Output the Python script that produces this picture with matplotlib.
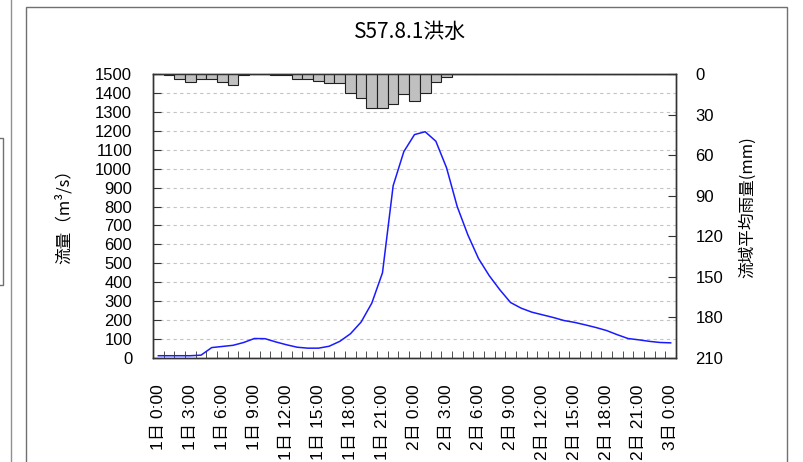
import matplotlib
matplotlib.use("Agg")
import matplotlib.pyplot as plt
import numpy as np
from matplotlib.lines import Line2D
from matplotlib.patches import Rectangle

plt.rcParams["font.family"] = ["Liberation Sans", "Noto Sans CJK JP", "DejaVu Sans"]

# ----------------------------------------------------------------------
# Data (hourly, 1日 0:00 .. 3日 0:00)
# ----------------------------------------------------------------------
flow = [12, 12, 12, 12, 15, 55, 61, 67, 82, 103,
        102, 85, 70, 57, 52, 52, 62, 88, 128, 190,
        290, 450, 910, 1090, 1180, 1195, 1145, 1005, 800, 650,
        525, 435, 360, 293, 263, 242, 228, 214, 198, 188,
        175, 161, 145, 123, 103, 96, 88, 82, 80]
rain = [0, 1, 4, 6, 4, 4, 6, 8, 1, 0,
        0, 1, 1, 4, 4, 5, 7, 7, 14, 18,
        25, 25, 22, 15, 20, 14, 6, 2, 0, 0,
        0, 0, 0, 0, 0, 0, 0, 0, 0, 0,
        0, 0, 0, 0, 0, 0, 0, 0, 0]
hour_labels = ["1日 0:00", "1日 3:00", "1日 6:00", "1日 9:00",
               "1日 12:00", "1日 15:00", "1日 18:00", "1日 21:00",
               "2日 0:00", "2日 3:00", "2日 6:00", "2日 9:00",
               "2日 12:00", "2日 15:00", "2日 18:00", "2日 21:00",
               "3日 0:00"]
flow_ticks = list(range(0, 1501, 100))
rain_ticks = list(range(0, 211, 30))

x = np.arange(len(flow))

# ----------------------------------------------------------------------
# Figure
# ----------------------------------------------------------------------
W, H = 804, 462
fig = plt.figure(figsize=(W / 100, H / 100), dpi=100)
fig.patch.set_facecolor("white")

# window decorations around the chart
fig.add_artist(Rectangle((26 / W, -0.05), (787 - 26) / W, 0.05 + (1 - 7 / H),
                         transform=fig.transFigure, facecolor="none",
                         edgecolor="#707070", lw=1.0))
fig.add_artist(Line2D([11 / W, 11 / W], [0, 1], transform=fig.transFigure,
                      color="#909090", lw=1.0))
fig.add_artist(Rectangle((-0.01, 1 - 285 / H), 0.01 + 3 / W, (285 - 138) / H,
                         transform=fig.transFigure, facecolor="none",
                         edgecolor="#707070", lw=1.0))

ax = fig.add_axes([153 / W, 1 - 358 / H, (676 - 153) / W, (358 - 74) / H])
ax.set_axisbelow(True)
ax.plot(x, flow, color="#1a1aff", lw=1.1, zorder=3)

ax.set_xlim(-0.5, len(flow) - 0.5)
ax.set_ylim(0, 1500)
ax.set_yticks(flow_ticks)
ax.set_yticklabels([str(v) for v in flow_ticks], fontsize=12)
ax.yaxis.grid(True, linestyle=(0, (3, 3)), color="#c4c4c4", lw=0.8)

ax.set_xticks(np.arange(0, len(flow), 3))
ax.set_xticklabels(hour_labels, rotation=90, fontsize=12.5)
ax.set_xticks(np.arange(-0.5, len(flow), 1), minor=True)
ax.tick_params(axis="x", which="major", length=0, pad=19)
ax.tick_params(axis="x", which="minor", direction="in", length=5,
               color="#333333")
ax.tick_params(axis="y", direction="in", length=6, pad=15, color="#333333")

for s in ax.spines.values():
    s.set_color("#333333")
    s.set_linewidth(1.0)

# rainfall hyetograph hanging from the top
ax2 = ax.twinx()
ax2.bar(x, rain, width=1.0, color="#c0c0c0", edgecolor="#202020", lw=0.8)
ax2.set_ylim(210, 0)
ax2.set_yticks(rain_ticks)
ax2.set_yticklabels([str(v) for v in rain_ticks], fontsize=12)
ax2.tick_params(axis="y", direction="in", length=6, pad=14, color="#333333")
for s in ax2.spines.values():
    s.set_color("#333333")
    s.set_linewidth(1.0)

cjk = ["Noto Sans CJK JP", "DejaVu Sans"]
fig.text(410 / W, 1 - 32 / H, "S57.8.1洪水", ha="center", va="center",
         fontsize=15, family=cjk)
fig.text(64 / W, 1 - 213 / H, "流量（m³/s）", ha="center", va="center",
         rotation=90, fontsize=12, family=cjk)
fig.text(748 / W, 1 - 207 / H, "流域平均雨量(mm)", ha="center", va="center",
         rotation=90, fontsize=12, family=cjk)

fig.savefig("out.png", dpi=100, facecolor=fig.get_facecolor())
